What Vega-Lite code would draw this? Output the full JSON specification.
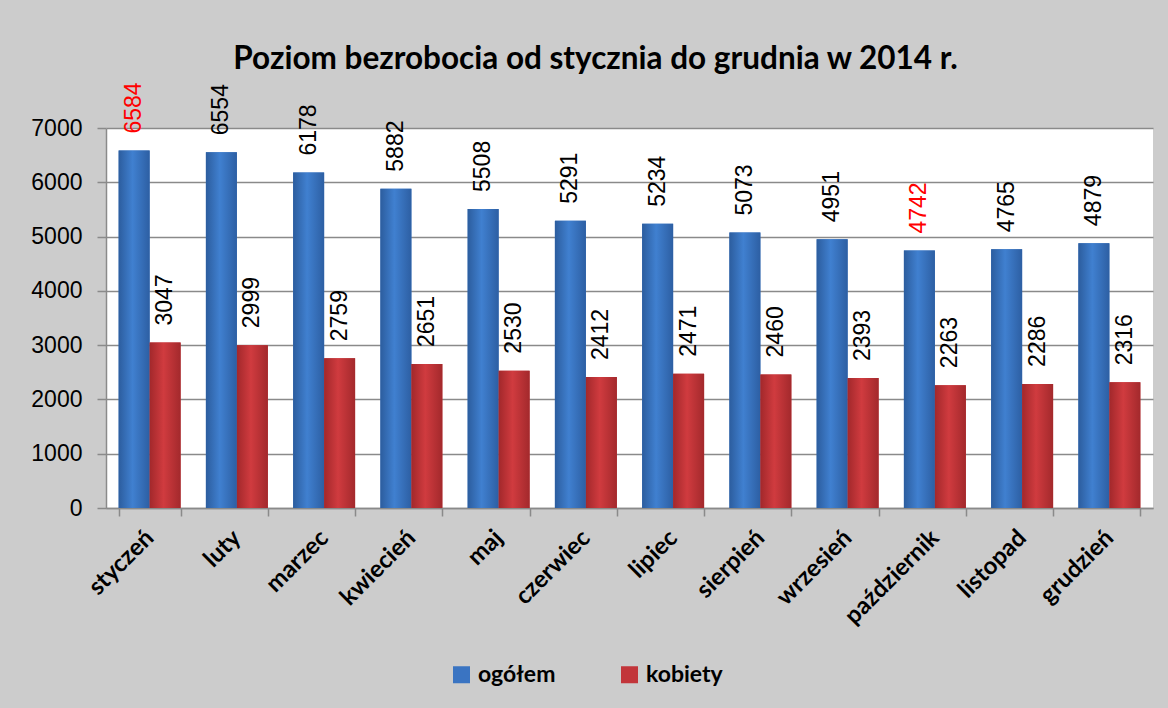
{
  "$schema": "https://vega.github.io/schema/vega-lite/v6.json",
  "autosize": "none",
  "width": 1047,
  "height": 380,
  "padding": {"left": 106, "top": 128, "right": 15, "bottom": 200},
  "background": "#cccccc",
  "view": {"fill": "white", "stroke": null},
  "title": {
    "text": "Poziom bezrobocia od stycznia do grudnia w 2014 r.",
    "font": "Lato",
    "fontSize": 31.5,
    "fontWeight": "bold",
    "color": "black",
    "anchor": "middle",
    "frame": "group",
    "dx": -34,
    "offset": 7
  },
  "data": {
    "values": [
      {"miesiac": "styczeń", "seria": "ogółem", "wartosc": 6584},
      {"miesiac": "luty", "seria": "ogółem", "wartosc": 6554},
      {"miesiac": "marzec", "seria": "ogółem", "wartosc": 6178},
      {"miesiac": "kwiecień", "seria": "ogółem", "wartosc": 5882},
      {"miesiac": "maj", "seria": "ogółem", "wartosc": 5508},
      {"miesiac": "czerwiec", "seria": "ogółem", "wartosc": 5291},
      {"miesiac": "lipiec", "seria": "ogółem", "wartosc": 5234},
      {"miesiac": "sierpień", "seria": "ogółem", "wartosc": 5073},
      {"miesiac": "wrzesień", "seria": "ogółem", "wartosc": 4951},
      {"miesiac": "październik", "seria": "ogółem", "wartosc": 4742},
      {"miesiac": "listopad", "seria": "ogółem", "wartosc": 4765},
      {"miesiac": "grudzień", "seria": "ogółem", "wartosc": 4879},
      {"miesiac": "styczeń", "seria": "kobiety", "wartosc": 3047},
      {"miesiac": "luty", "seria": "kobiety", "wartosc": 2999},
      {"miesiac": "marzec", "seria": "kobiety", "wartosc": 2759},
      {"miesiac": "kwiecień", "seria": "kobiety", "wartosc": 2651},
      {"miesiac": "maj", "seria": "kobiety", "wartosc": 2530},
      {"miesiac": "czerwiec", "seria": "kobiety", "wartosc": 2412},
      {"miesiac": "lipiec", "seria": "kobiety", "wartosc": 2471},
      {"miesiac": "sierpień", "seria": "kobiety", "wartosc": 2460},
      {"miesiac": "wrzesień", "seria": "kobiety", "wartosc": 2393},
      {"miesiac": "październik", "seria": "kobiety", "wartosc": 2263},
      {"miesiac": "listopad", "seria": "kobiety", "wartosc": 2286},
      {"miesiac": "grudzień", "seria": "kobiety", "wartosc": 2316}
    ]
  },
  "transform": [
    {"joinaggregate": [{"op": "max", "field": "wartosc", "as": "maks"}, {"op": "min", "field": "wartosc", "as": "mini"}], "groupby": ["seria"]}
  ],
  "encoding": {
    "x": {
      "field": "miesiac",
      "type": "nominal",
      "sort": null,
      "title": null,
      "scale": {"paddingInner": 0.29, "paddingOuter": 0.145},
      "axis": {
        "labelAngle": -45,
        "labelAlign": "right",
        "labelBaseline": "middle",
        "labelFont": "Lato",
        "labelFontSize": 24,
        "labelFontWeight": "bold",
        "labelColor": "black",
        "labelPadding": 18,
        "tickBand": "extent",
        "tickSize": 8,
        "tickColor": "#8a8a8a",
        "tickWidth": 1.5,
        "domainColor": "#8a8a8a",
        "domainWidth": 1.5,
        "grid": false
      }
    },
    "xOffset": {"field": "seria", "type": "nominal", "scale": {"domain": ["ogółem", "kobiety"]}},
    "y": {
      "field": "wartosc",
      "type": "quantitative",
      "title": null,
      "scale": {"domain": [0, 7000], "nice": false},
      "axis": {
        "values": [0, 1000, 2000, 3000, 4000, 5000, 6000, 7000],
        "format": "d",
        "labelFont": "Liberation Sans",
        "labelFontSize": 23,
        "labelColor": "black",
        "labelPadding": 15,
        "tickSize": 9,
        "tickColor": "#8a8a8a",
        "tickWidth": 1.5,
        "domainColor": "#8a8a8a",
        "domainWidth": 1.5,
        "gridColor": "#8a8a8a",
        "gridWidth": 1.5
      }
    }
  },
  "layer": [
    {
      "mark": {"type": "bar"},
      "encoding": {
        "color": {
          "field": "seria",
          "type": "nominal",
          "scale": {"domain": ["ogółem", "kobiety"], "range": ["#3a74c2", "#c2353a"]},
          "legend": {
            "title": null,
            "orient": "none",
            "legendX": 344,
            "legendY": 535,
            "direction": "horizontal",
            "symbolType": "square",
            "symbolSize": 289,
            "symbolStrokeWidth": 0,
            "labelFont": "Lato",
            "labelFontSize": 23,
            "labelFontWeight": "bold",
            "labelColor": "black",
            "labelOffset": 5,
            "columnPadding": 62
          }
        }
      }
    },
    {
      "mark": {"type": "bar"},
      "encoding": {
        "fill": {
          "condition": {
            "test": "datum.seria === 'ogółem'",
            "value": {"gradient": "linear", "x1": 0, "y1": 0, "x2": 1, "y2": 0, "stops": [{"offset": 0, "color": "#2c5d9e"}, {"offset": 0.45, "color": "#4080d0"}, {"offset": 1, "color": "#2d5fa3"}]}
          },
          "value": {"gradient": "linear", "x1": 0, "y1": 0, "x2": 1, "y2": 0, "stops": [{"offset": 0, "color": "#a2282b"}, {"offset": 0.45, "color": "#d03b3f"}, {"offset": 1, "color": "#a3292c"}]}
        }
      }
    },
    {
      "mark": {"type": "text", "angle": -90, "align": "left", "baseline": "middle", "dx": 17, "font": "Liberation Sans", "fontSize": 23},
      "encoding": {
        "text": {"field": "wartosc", "type": "quantitative"},
        "color": {
          "condition": {"test": "datum.seria === 'ogółem' && (datum.wartosc === datum.maks || datum.wartosc === datum.mini)", "value": "#ff0000"},
          "value": "black"
        }
      }
    }
  ]
}
